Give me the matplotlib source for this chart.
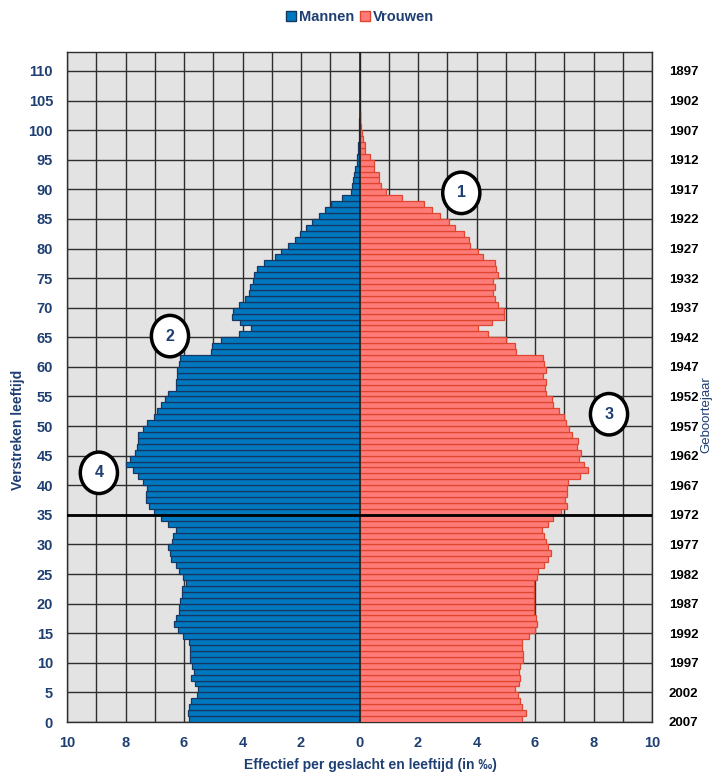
import numpy as np
import matplotlib
matplotlib.use("Agg")
import matplotlib.pyplot as plt
from matplotlib.patches import Ellipse, Rectangle

# per mille of population, by age 0..102
ages = list(range(0, 103))

men = [5.82, 5.88, 5.82, 5.75, 5.57, 5.53, 5.63, 5.75, 5.65, 5.71,
       5.78, 5.80, 5.79, 5.84, 6.03, 6.21, 6.33, 6.29, 6.18, 6.16,
       6.15, 6.08, 6.08, 5.93, 6.03, 6.16, 6.29, 6.44, 6.48, 6.54,
       6.42, 6.39, 6.29, 6.54, 6.77, 7.03, 7.20, 7.31, 7.29, 7.25,
       7.39, 7.56, 7.75, 7.97, 7.84, 7.66, 7.62, 7.56, 7.56, 7.39,
       7.25, 7.03, 6.93, 6.77, 6.64, 6.56, 6.29, 6.27, 6.25, 6.24,
       6.18, 6.12, 5.07, 5.03, 4.72, 4.13, 3.70, 4.07, 4.35, 4.33,
       4.13, 3.91, 3.78, 3.74, 3.63, 3.59, 3.50, 3.28, 2.89, 2.68,
       2.43, 2.22, 2.04, 1.83, 1.61, 1.39, 1.18, 0.97, 0.59, 0.30,
       0.25, 0.22, 0.20, 0.17, 0.10, 0.07, 0.05, 0.04, 0.03, 0.03,
       0.01, 0.005, 0.0]

women = [5.56, 5.69, 5.54, 5.49, 5.42, 5.32, 5.45, 5.49, 5.45, 5.48,
         5.58, 5.59, 5.54, 5.56, 5.79, 6.00, 6.08, 6.05, 5.97, 5.97,
         5.97, 5.95, 5.95, 5.97, 6.08, 6.10, 6.30, 6.44, 6.54, 6.44,
         6.39, 6.30, 6.24, 6.44, 6.63, 6.88, 7.08, 7.04, 7.08, 7.08,
         7.12, 7.54, 7.80, 7.67, 7.52, 7.57, 7.44, 7.48, 7.28, 7.15,
         7.05, 6.99, 6.82, 6.63, 6.58, 6.39, 6.34, 6.39, 6.26, 6.37,
         6.30, 6.26, 5.35, 5.32, 5.02, 4.38, 4.04, 4.54, 4.93, 4.95,
         4.73, 4.64, 4.56, 4.64, 4.56, 4.73, 4.67, 4.64, 4.21, 4.05,
         3.79, 3.73, 3.56, 3.27, 3.07, 2.75, 2.48, 2.21, 1.46, 0.90,
         0.75, 0.68, 0.65, 0.51, 0.48, 0.35, 0.18, 0.18, 0.13, 0.09,
         0.06, 0.03, 0.02]

age_ticks = list(range(0, 111, 5))
year_labels = [str(2007 - a) for a in age_ticks]
x_ticks = list(range(-10, 11, 2))
x_labels = [str(abs(v)) for v in x_ticks]

# numbered remarks: (x, age, label)
notes = [(3.48, 89.4, "1"), (-6.48, 65.2, "2"), (8.53, 52.0, "3"), (-8.91, 42.1, "4")]

navy = "#1f3f73"
c_men = "#0078bf"
c_men_edge = "#173763"
c_women = "#ff7b78"
c_women_edge = "#de4630"
fnt = ["Liberation Sans", "DejaVu Sans"]

fig = plt.figure(figsize=(7.12, 7.74), dpi=100)
ax = fig.add_axes([67/712, 52/774, 585/712, 670/774])
ax.set_facecolor("#e3e3e3")

ax.barh(ages, [-m for m in men], height=1.0, align="edge", color=c_men,
        edgecolor=c_men_edge, linewidth=0.9, zorder=3)
ax.barh(ages, women, height=1.0, align="edge", color=c_women,
        edgecolor=c_women_edge, linewidth=0.9, zorder=3)
ax.axvline(0, color="#202020", lw=1.2, zorder=4)
ax.axhline(35, color="black", lw=2.0, zorder=5)

ax.set_xlim(-10, 10)
ax.set_ylim(0, 113.2)
ax.set_xticks(x_ticks)
ax.set_xticklabels(x_labels)
ax.set_xticks(range(-10, 11), minor=True)
ax.set_yticks(age_ticks)
ax.grid(which="both", axis="x", color="#2e2e2e", lw=1.0, zorder=1)
ax.grid(which="major", axis="y", color="#2e2e2e", lw=1.0, zorder=1)
ax.set_axisbelow(True)
ax.tick_params(which="both", length=0)
ax.tick_params(axis="x", pad=10)
ax.tick_params(axis="y", pad=10)
for lab in ax.get_xticklabels() + ax.get_yticklabels():
    lab.set_family(fnt)
    lab.set_fontweight("bold")
    lab.set_fontsize(10.5)
    lab.set_color(navy)
for sp in ax.spines.values():
    sp.set_color("#2e2e2e")
    sp.set_linewidth(1.0)

ax2 = ax.twinx()
ax2.set_ylim(ax.get_ylim())
ax2.set_yticks(age_ticks)
ax2.set_yticklabels(year_labels)
ax2.tick_params(length=0, pad=12)
for lab in ax2.get_yticklabels():
    lab.set_family(fnt)
    lab.set_fontweight("bold")
    lab.set_fontsize(9.5)
    lab.set_color("black")
for sp in ax2.spines.values():
    sp.set_visible(False)

for x, y, t in notes:
    ax.add_patch(Ellipse((x, y), 1.27, 7.0, facecolor="white", edgecolor="black",
                         lw=2.5, zorder=8))
    ax.text(x, y, t, ha="center", va="center", color=navy, fontsize=11.5,
            fontweight="bold", family=fnt, zorder=9)

fig.text(18/712, 1 - 430/774, "Verstreken leeftijd", rotation=90, ha="center",
         va="center", color=navy, fontsize=10, family=fnt, fontweight="bold")
fig.text(706/712, 1 - 415/774, "Geboortejaar", rotation=90, ha="center",
         va="center", color=navy, fontsize=9.5, family=fnt)
fig.text(370/712, 1 - 765/774, "Effectief per geslacht en leeftijd (in ‰)",
         ha="center", va="center", color=navy, fontsize=10, family=fnt,
         fontweight="bold")

# legend at the top
h1 = Rectangle((0, 0), 1, 1, facecolor=c_men, edgecolor=c_men_edge)
h2 = Rectangle((0, 0), 1, 1, facecolor=c_women, edgecolor=c_women_edge)
leg = fig.legend([h1, h2], ["Mannen", "Vrouwen"], loc="center",
                 bbox_to_anchor=(360/712, 1 - 17/774), ncol=2, frameon=False,
                 handlelength=0.7, handleheight=0.7, handletextpad=0.2,
                 columnspacing=0.4, prop={"family": fnt, "weight": "bold", "size": 10.5})
for t in leg.get_texts():
    t.set_color(navy)

fig.savefig("out.png", dpi=100, facecolor="white")
